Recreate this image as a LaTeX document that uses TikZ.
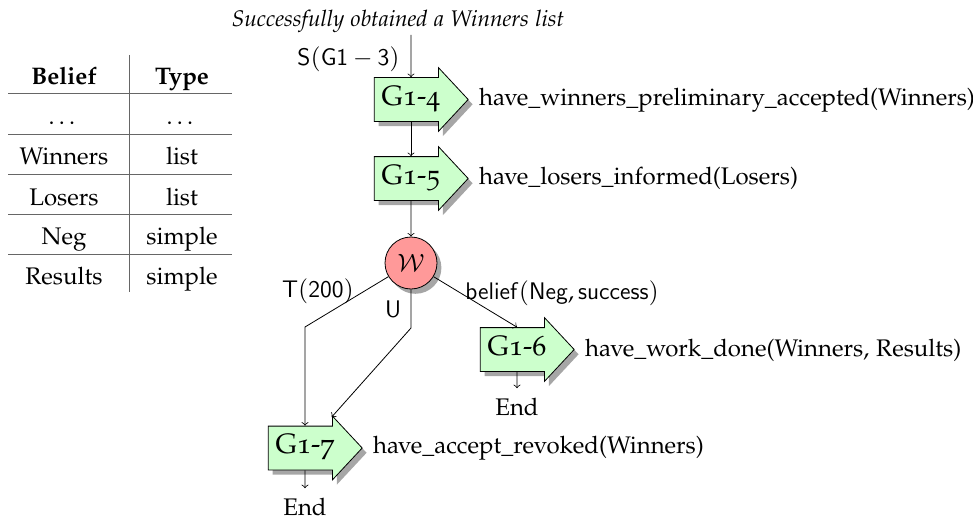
\documentclass[tikz,border=0pt]{standalone}
\usepackage[T1]{fontenc}
\usepackage[osf]{mathpazo}
\usetikzlibrary{shapes.arrows,shadows,calc}
\definecolor{goalgreen}{RGB}{204,255,204}
\definecolor{wred}{RGB}{255,153,153}
\begin{document}
\begin{tikzpicture}[x=0.5pt,y=-0.5pt,
  every node/.style={font=\fontsize{12}{14}\selectfont, inner sep=0pt},
  txt/.style={anchor=base},
  goal/.style={single arrow, draw, fill=goalgreen,
    drop shadow={shadow xshift=2.2pt,shadow yshift=-2.4pt,fill=black!35,opacity=1},
    minimum height=46pt, single arrow head extend=5pt, single arrow tip angle=94,
    text height=9.5pt, text depth=4pt, inner ysep=4pt, inner xsep=3.5pt,
    font=\fontsize{14}{16}\selectfont},
  wnode/.style={circle, draw, fill=wred, minimum size=26pt,
    drop shadow={shadow xshift=2.2pt,shadow yshift=-2.4pt,fill=black!35,opacity=1}},
  endnode/.style={anchor=base, inner ysep=4.5pt},
  conn/.style={->, >=to},
  rule/.style={draw=black!60, line width=0.5pt},
  lbl/.style={anchor=base west}]
\useasboundingbox (0,0) rectangle (973,524);

% table
\draw[rule] (129,55) -- (129,292);
\foreach \yy in {94,134,174,214,254} \draw[rule] (8,\yy) -- (232,\yy);
\node[txt] (hb) at (64,85) {\textbf{Belief}};
\node[txt] (ht) at (182,85) {\textbf{Type}};
\node[txt] (r1a) at (64,125) {\dots};
\node[txt] (r1b) at (182,125) {\dots};
\node[txt] (r2a) at (64,164) {Winners};
\node[txt] (r2b) at (182,164) {list};
\node[txt] (r3a) at (64,205) {Losers};
\node[txt] (r3b) at (182,205) {list};
\node[txt] (r4a) at (64,244) {Neg};
\node[txt] (r4b) at (182,244) {simple};
\node[txt] (r5a) at (64,284) {Results};
\node[txt] (r5b) at (182,284) {simple};

% diagram
\node[txt, font=\fontsize{11.3}{13}\selectfont] (title) at (398,27) {\textit{Successfully obtained a Winners list}};
\coordinate (s) at (411,35);
\node (g4) [goal] at (411,99.5) {G1-4};
\node (g5) [goal] at (411,178.5) {G1-5};
\node (w) [wnode] at (411,263) {$\mathcal{W}$};
\node (g6) [goal] at (517,349.5) {G1-6};
\node (g7) [goal] at (305,448) {G1-7};
\node[endnode] (e6) at (517,415) {End};
\node[endnode] (e7) at (305,515) {End};

\node[lbl] (l4) at ([xshift=5pt,yshift=-2.75pt]g4.tip) {have\_winners\_preliminary\_accepted(Winners)};
\node[lbl] (l5) at ([xshift=5pt,yshift=-3pt]g5.tip) {have\_losers\_informed(Losers)};
\node[lbl] (l6) at ([xshift=5pt,yshift=-3.25pt]g6.tip) {have\_work\_done(Winners, Results)};
\node[lbl] (l7) at ([xshift=5pt,yshift=-2.75pt]g7.tip) {have\_accept\_revoked(Winners)};

\coordinate (t1) at (305,327);
\coordinate (u1) at (411,328);

\draw[conn] (s) -- (g4.north);
\node[anchor=base east] (sl) at (400,66) {$\mathsf{S}(\mathsf{G1}-\mathsf{3})$};
\draw[conn] (g4.south) -- (g5.north);
\draw[conn] (g5.south) -- (w.north);
\draw[conn] (w) -- (t1) -- (g7.north);
\node[txt] (tl) at (318,297) {$\mathsf{T}(\mathsf{200})$};
\draw[conn] (w.south) -- (u1) -- ($(g7.tip)+(-31,-31)$);
\node[txt] (ul) at (393,317) {$\mathsf{U}$};
\draw[conn] (w) -- (g6.north);
\node[lbl] (bl) at (465,299) {$\mathsf{belief}(\mathsf{Neg},\mathsf{success})$};
\draw[conn] (g6.south) -- (e6.north);
\draw[conn] (g7.south) -- (e7.north);
\end{tikzpicture}
\end{document}
